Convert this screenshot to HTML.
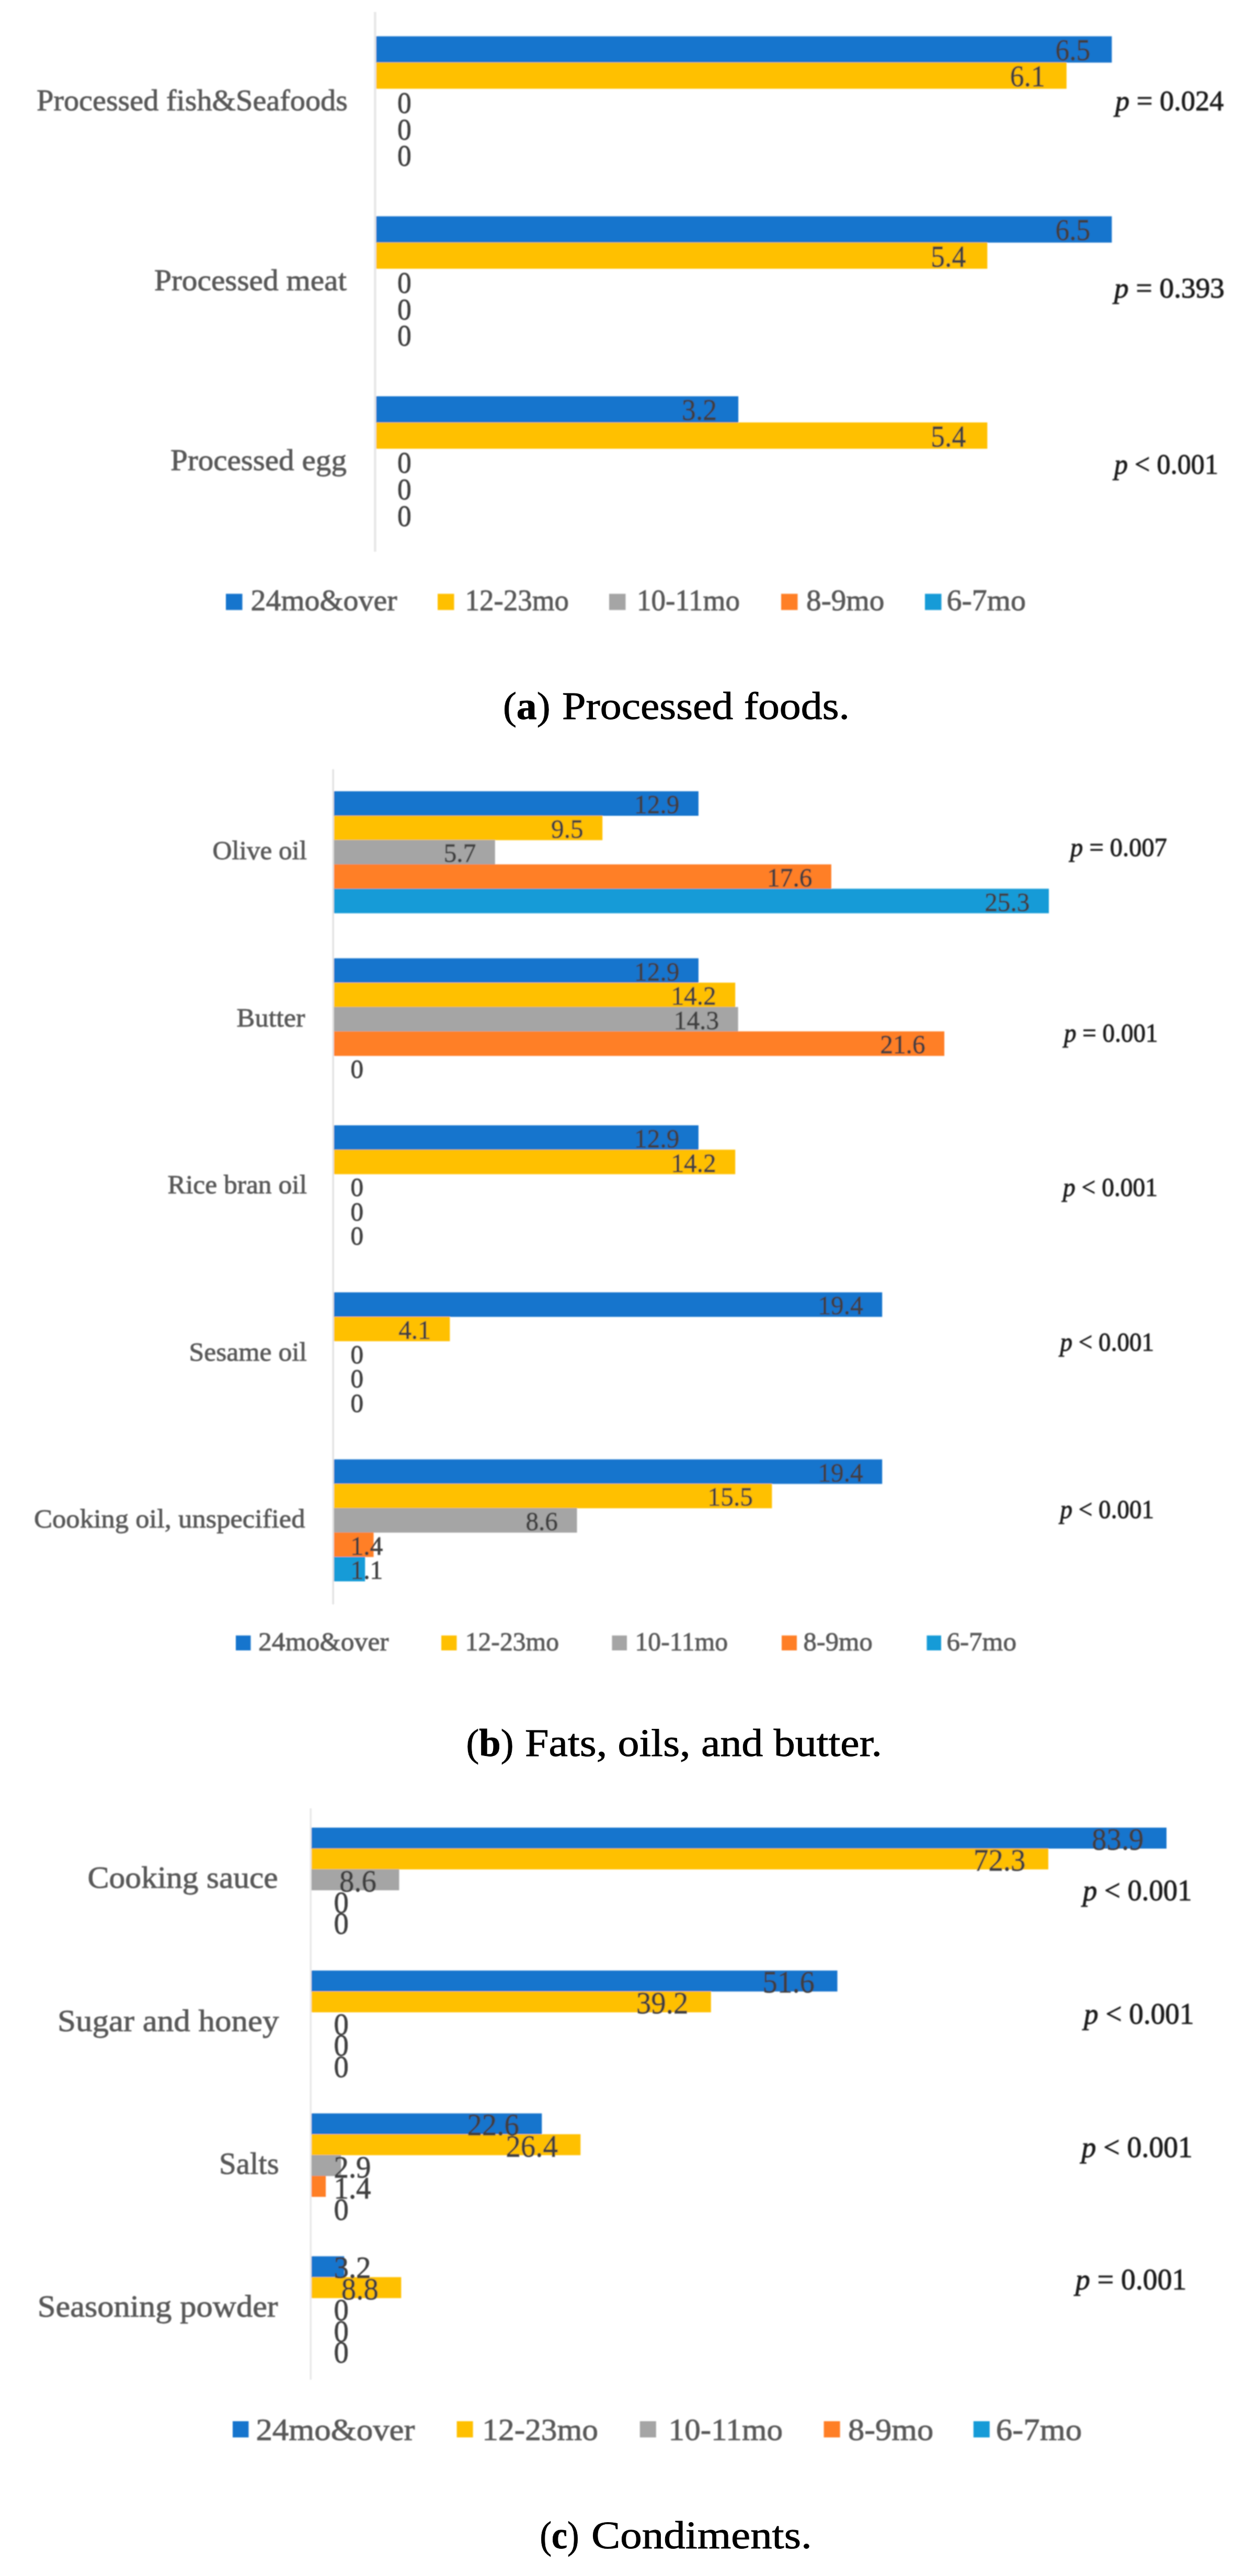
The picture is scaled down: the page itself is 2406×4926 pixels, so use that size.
<!DOCTYPE html>
<html lang="en"><head><meta charset="utf-8"><title>Figure</title>
<style>
html,body{margin:0;padding:0;background:#fff;}
body{width:2406px;height:4926px;overflow:hidden;}
svg{display:block;font-family:"Liberation Serif", serif;}
text{white-space:pre;}
</style></head>
<body>
<svg width="2406" height="4926" viewBox="0 0 2406 4926">
<defs>
<filter id="bla" x="0" y="0" width="2406" height="1250" filterUnits="userSpaceOnUse"><feGaussianBlur stdDeviation="1.0"/></filter>
<filter id="blb" x="0" y="1440" width="2406" height="1800" filterUnits="userSpaceOnUse"><feGaussianBlur stdDeviation="0.9"/></filter>
<filter id="blc" x="0" y="3430" width="2406" height="1300" filterUnits="userSpaceOnUse"><feGaussianBlur stdDeviation="1.1"/></filter>
</defs>
<rect x="0" y="0" width="2406" height="4926" fill="#fff"/>
<g filter="url(#bla)"><rect x="715.2" y="23.0" width="4.4" height="1032.0" fill="#e6e6e6"/>
<rect x="719.5" y="69.4" width="1406.9" height="50.3" fill="#1874CD"/>
<rect x="719.5" y="119.4" width="1320.3" height="50.3" fill="#FFC000"/>
<text x="70.0" y="211.0" font-size="56" fill="#595959" textLength="595.0" lengthAdjust="spacingAndGlyphs" stroke="#595959" stroke-width="0.9">Processed fish&amp;Seafoods</text>
<text x="2133.0" y="211.0" font-size="55" fill="#1c1c1c" textLength="207.5" lengthAdjust="spacingAndGlyphs" stroke="#1c1c1c" stroke-width="1.0"><tspan font-style="italic">p</tspan> = 0.024</text>
<rect x="719.5" y="413.6" width="1406.9" height="50.3" fill="#1874CD"/>
<rect x="719.5" y="463.6" width="1168.8" height="50.3" fill="#FFC000"/>
<text x="295.0" y="555.2" font-size="56" fill="#595959" textLength="368.0" lengthAdjust="spacingAndGlyphs" stroke="#595959" stroke-width="0.9">Processed meat</text>
<text x="2131.0" y="569.0" font-size="55" fill="#1c1c1c" textLength="211.0" lengthAdjust="spacingAndGlyphs" stroke="#1c1c1c" stroke-width="1.0"><tspan font-style="italic">p</tspan> = 0.393</text>
<rect x="719.5" y="757.8" width="692.6" height="50.3" fill="#1874CD"/>
<rect x="719.5" y="807.8" width="1168.8" height="50.3" fill="#FFC000"/>
<text x="326.0" y="899.4" font-size="56" fill="#595959" textLength="337.0" lengthAdjust="spacingAndGlyphs" stroke="#595959" stroke-width="0.9">Processed egg</text>
<text x="2131.0" y="906.0" font-size="55" fill="#1c1c1c" textLength="199.0" lengthAdjust="spacingAndGlyphs" stroke="#1c1c1c" stroke-width="1.0"><tspan font-style="italic">p</tspan> &lt; 0.001</text>
<text x="2018.4" y="114.8" font-size="56" fill="#404040" textLength="67.0" lengthAdjust="spacingAndGlyphs" stroke="#404040" stroke-width="0.8">6.5</text>
<text x="1931.8" y="165.4" font-size="56" fill="#404040" textLength="67.0" lengthAdjust="spacingAndGlyphs" stroke="#404040" stroke-width="0.8">6.1</text>
<text x="760.0" y="216.0" font-size="56" fill="#404040" textLength="26.8" lengthAdjust="spacingAndGlyphs" stroke="#404040" stroke-width="0.8">0</text>
<text x="760.0" y="266.6" font-size="56" fill="#404040" textLength="26.8" lengthAdjust="spacingAndGlyphs" stroke="#404040" stroke-width="0.8">0</text>
<text x="760.0" y="317.2" font-size="56" fill="#404040" textLength="26.8" lengthAdjust="spacingAndGlyphs" stroke="#404040" stroke-width="0.8">0</text>
<text x="2018.4" y="459.0" font-size="56" fill="#404040" textLength="67.0" lengthAdjust="spacingAndGlyphs" stroke="#404040" stroke-width="0.8">6.5</text>
<text x="1780.3" y="509.6" font-size="56" fill="#404040" textLength="67.0" lengthAdjust="spacingAndGlyphs" stroke="#404040" stroke-width="0.8">5.4</text>
<text x="760.0" y="560.2" font-size="56" fill="#404040" textLength="26.8" lengthAdjust="spacingAndGlyphs" stroke="#404040" stroke-width="0.8">0</text>
<text x="760.0" y="610.8" font-size="56" fill="#404040" textLength="26.8" lengthAdjust="spacingAndGlyphs" stroke="#404040" stroke-width="0.8">0</text>
<text x="760.0" y="661.4" font-size="56" fill="#404040" textLength="26.8" lengthAdjust="spacingAndGlyphs" stroke="#404040" stroke-width="0.8">0</text>
<text x="1304.1" y="803.2" font-size="56" fill="#404040" textLength="67.0" lengthAdjust="spacingAndGlyphs" stroke="#404040" stroke-width="0.8">3.2</text>
<text x="1780.3" y="853.8" font-size="56" fill="#404040" textLength="67.0" lengthAdjust="spacingAndGlyphs" stroke="#404040" stroke-width="0.8">5.4</text>
<text x="760.0" y="904.4" font-size="56" fill="#404040" textLength="26.8" lengthAdjust="spacingAndGlyphs" stroke="#404040" stroke-width="0.8">0</text>
<text x="760.0" y="955.0" font-size="56" fill="#404040" textLength="26.8" lengthAdjust="spacingAndGlyphs" stroke="#404040" stroke-width="0.8">0</text>
<text x="760.0" y="1005.6" font-size="56" fill="#404040" textLength="26.8" lengthAdjust="spacingAndGlyphs" stroke="#404040" stroke-width="0.8">0</text>
<rect x="432.0" y="1135.5" width="31.5" height="31.0" fill="#1874CD"/>
<text x="479.5" y="1166.5" font-size="56" fill="#595959" textLength="280.0" lengthAdjust="spacingAndGlyphs" stroke="#595959" stroke-width="0.9">24mo&amp;over</text>
<rect x="837.0" y="1135.5" width="31.5" height="31.0" fill="#FFC000"/>
<text x="889.5" y="1166.5" font-size="56" fill="#595959" textLength="198.5" lengthAdjust="spacingAndGlyphs" stroke="#595959" stroke-width="0.9">12-23mo</text>
<rect x="1165.0" y="1135.5" width="31.5" height="31.0" fill="#A5A5A5"/>
<text x="1218.0" y="1166.5" font-size="56" fill="#595959" textLength="197.0" lengthAdjust="spacingAndGlyphs" stroke="#595959" stroke-width="0.9">10-11mo</text>
<rect x="1494.0" y="1135.5" width="31.5" height="31.0" fill="#FF7F27"/>
<text x="1542.0" y="1166.5" font-size="56" fill="#595959" textLength="149.5" lengthAdjust="spacingAndGlyphs" stroke="#595959" stroke-width="0.9">8-9mo</text>
<rect x="1769.0" y="1135.5" width="31.5" height="31.0" fill="#179BD7"/>
<text x="1810.5" y="1166.5" font-size="56" fill="#595959" textLength="151.5" lengthAdjust="spacingAndGlyphs" stroke="#595959" stroke-width="0.9">6-7mo</text></g>
<g filter="url(#blb)"><rect x="635.6" y="1471.0" width="3.0" height="1597.0" fill="#dedede"/>
<rect x="638.8" y="1513.1" width="697.1" height="46.9" fill="#1874CD"/>
<rect x="638.8" y="1559.7" width="513.4" height="46.9" fill="#FFC000"/>
<rect x="638.8" y="1606.3" width="308.0" height="46.9" fill="#A5A5A5"/>
<rect x="638.8" y="1652.9" width="951.1" height="46.9" fill="#FF7F27"/>
<rect x="638.8" y="1699.5" width="1367.2" height="46.9" fill="#179BD7"/>
<text x="406.5" y="1643.4" font-size="50" fill="#595959" textLength="180.5" lengthAdjust="spacingAndGlyphs" stroke="#595959" stroke-width="0.9">Olive oil</text>
<text x="2047.0" y="1637.0" font-size="50" fill="#1c1c1c" textLength="185.0" lengthAdjust="spacingAndGlyphs" stroke="#1c1c1c" stroke-width="1.0"><tspan font-style="italic">p</tspan> = 0.007</text>
<rect x="638.8" y="1832.5" width="697.1" height="46.9" fill="#1874CD"/>
<rect x="638.8" y="1879.1" width="767.4" height="46.9" fill="#FFC000"/>
<rect x="638.8" y="1925.7" width="772.8" height="46.9" fill="#A5A5A5"/>
<rect x="638.8" y="1972.3" width="1167.3" height="46.9" fill="#FF7F27"/>
<text x="452.5" y="1962.8" font-size="50" fill="#595959" textLength="131.0" lengthAdjust="spacingAndGlyphs" stroke="#595959" stroke-width="0.9">Butter</text>
<text x="2035.0" y="1991.5" font-size="50" fill="#1c1c1c" textLength="179.5" lengthAdjust="spacingAndGlyphs" stroke="#1c1c1c" stroke-width="1.0"><tspan font-style="italic">p</tspan> = 0.001</text>
<rect x="638.8" y="2151.9" width="697.1" height="46.9" fill="#1874CD"/>
<rect x="638.8" y="2198.5" width="767.4" height="46.9" fill="#FFC000"/>
<text x="320.5" y="2282.2" font-size="50" fill="#595959" textLength="266.5" lengthAdjust="spacingAndGlyphs" stroke="#595959" stroke-width="0.9">Rice bran oil</text>
<text x="2033.0" y="2286.5" font-size="50" fill="#1c1c1c" textLength="181.0" lengthAdjust="spacingAndGlyphs" stroke="#1c1c1c" stroke-width="1.0"><tspan font-style="italic">p</tspan> &lt; 0.001</text>
<rect x="638.8" y="2471.3" width="1048.4" height="46.9" fill="#1874CD"/>
<rect x="638.8" y="2517.9" width="221.6" height="46.9" fill="#FFC000"/>
<text x="361.5" y="2601.6" font-size="50" fill="#595959" textLength="225.5" lengthAdjust="spacingAndGlyphs" stroke="#595959" stroke-width="0.9">Sesame oil</text>
<text x="2027.5" y="2583.0" font-size="50" fill="#1c1c1c" textLength="179.5" lengthAdjust="spacingAndGlyphs" stroke="#1c1c1c" stroke-width="1.0"><tspan font-style="italic">p</tspan> &lt; 0.001</text>
<rect x="638.8" y="2790.7" width="1048.4" height="46.9" fill="#1874CD"/>
<rect x="638.8" y="2837.3" width="837.6" height="46.9" fill="#FFC000"/>
<rect x="638.8" y="2883.9" width="464.7" height="46.9" fill="#A5A5A5"/>
<rect x="638.8" y="2930.5" width="75.7" height="46.9" fill="#FF7F27"/>
<rect x="638.8" y="2977.1" width="59.4" height="46.9" fill="#179BD7"/>
<text x="65.0" y="2921.0" font-size="50" fill="#595959" textLength="518.5" lengthAdjust="spacingAndGlyphs" stroke="#595959" stroke-width="0.9">Cooking oil, unspecified</text>
<text x="2027.5" y="2903.0" font-size="50" fill="#1c1c1c" textLength="179.5" lengthAdjust="spacingAndGlyphs" stroke="#1c1c1c" stroke-width="1.0"><tspan font-style="italic">p</tspan> &lt; 0.001</text>
<text x="1213.1" y="1555.2" font-size="50.5" fill="#404040" textLength="86.3" lengthAdjust="spacingAndGlyphs" stroke="#404040" stroke-width="0.8">12.9</text>
<text x="1054.1" y="1601.8" font-size="50.5" fill="#404040" textLength="61.6" lengthAdjust="spacingAndGlyphs" stroke="#404040" stroke-width="0.8">9.5</text>
<text x="848.7" y="1648.4" font-size="50.5" fill="#404040" textLength="61.6" lengthAdjust="spacingAndGlyphs" stroke="#404040" stroke-width="0.8">5.7</text>
<text x="1467.1" y="1695.0" font-size="50.5" fill="#404040" textLength="86.3" lengthAdjust="spacingAndGlyphs" stroke="#404040" stroke-width="0.8">17.6</text>
<text x="1883.2" y="1741.6" font-size="50.5" fill="#404040" textLength="86.3" lengthAdjust="spacingAndGlyphs" stroke="#404040" stroke-width="0.8">25.3</text>
<text x="1213.1" y="1874.6" font-size="50.5" fill="#404040" textLength="86.3" lengthAdjust="spacingAndGlyphs" stroke="#404040" stroke-width="0.8">12.9</text>
<text x="1283.4" y="1921.2" font-size="50.5" fill="#404040" textLength="86.3" lengthAdjust="spacingAndGlyphs" stroke="#404040" stroke-width="0.8">14.2</text>
<text x="1288.8" y="1967.8" font-size="50.5" fill="#404040" textLength="86.3" lengthAdjust="spacingAndGlyphs" stroke="#404040" stroke-width="0.8">14.3</text>
<text x="1683.3" y="2014.4" font-size="50.5" fill="#404040" textLength="86.3" lengthAdjust="spacingAndGlyphs" stroke="#404040" stroke-width="0.8">21.6</text>
<text x="670.5" y="2061.0" font-size="50.5" fill="#404040" textLength="24.6" lengthAdjust="spacingAndGlyphs" stroke="#404040" stroke-width="0.8">0</text>
<text x="1213.1" y="2194.0" font-size="50.5" fill="#404040" textLength="86.3" lengthAdjust="spacingAndGlyphs" stroke="#404040" stroke-width="0.8">12.9</text>
<text x="1283.4" y="2240.6" font-size="50.5" fill="#404040" textLength="86.3" lengthAdjust="spacingAndGlyphs" stroke="#404040" stroke-width="0.8">14.2</text>
<text x="670.5" y="2287.2" font-size="50.5" fill="#404040" textLength="24.6" lengthAdjust="spacingAndGlyphs" stroke="#404040" stroke-width="0.8">0</text>
<text x="670.5" y="2333.8" font-size="50.5" fill="#404040" textLength="24.6" lengthAdjust="spacingAndGlyphs" stroke="#404040" stroke-width="0.8">0</text>
<text x="670.5" y="2380.4" font-size="50.5" fill="#404040" textLength="24.6" lengthAdjust="spacingAndGlyphs" stroke="#404040" stroke-width="0.8">0</text>
<text x="1564.4" y="2513.4" font-size="50.5" fill="#404040" textLength="86.3" lengthAdjust="spacingAndGlyphs" stroke="#404040" stroke-width="0.8">19.4</text>
<text x="762.2" y="2560.0" font-size="50.5" fill="#404040" textLength="61.6" lengthAdjust="spacingAndGlyphs" stroke="#404040" stroke-width="0.8">4.1</text>
<text x="670.5" y="2606.6" font-size="50.5" fill="#404040" textLength="24.6" lengthAdjust="spacingAndGlyphs" stroke="#404040" stroke-width="0.8">0</text>
<text x="670.5" y="2653.2" font-size="50.5" fill="#404040" textLength="24.6" lengthAdjust="spacingAndGlyphs" stroke="#404040" stroke-width="0.8">0</text>
<text x="670.5" y="2699.8" font-size="50.5" fill="#404040" textLength="24.6" lengthAdjust="spacingAndGlyphs" stroke="#404040" stroke-width="0.8">0</text>
<text x="1564.4" y="2832.8" font-size="50.5" fill="#404040" textLength="86.3" lengthAdjust="spacingAndGlyphs" stroke="#404040" stroke-width="0.8">19.4</text>
<text x="1353.6" y="2879.4" font-size="50.5" fill="#404040" textLength="86.3" lengthAdjust="spacingAndGlyphs" stroke="#404040" stroke-width="0.8">15.5</text>
<text x="1005.4" y="2926.0" font-size="50.5" fill="#404040" textLength="61.6" lengthAdjust="spacingAndGlyphs" stroke="#404040" stroke-width="0.8">8.6</text>
<text x="670.5" y="2972.6" font-size="50.5" fill="#404040" textLength="61.6" lengthAdjust="spacingAndGlyphs" stroke="#404040" stroke-width="0.8">1.4</text>
<text x="670.5" y="3019.2" font-size="50.5" fill="#404040" textLength="61.6" lengthAdjust="spacingAndGlyphs" stroke="#404040" stroke-width="0.8">1.1</text>
<rect x="451.0" y="3127.5" width="28.5" height="28.5" fill="#1874CD"/>
<text x="494.0" y="3156.0" font-size="50" fill="#595959" textLength="249.5" lengthAdjust="spacingAndGlyphs" stroke="#595959" stroke-width="0.9">24mo&amp;over</text>
<rect x="844.0" y="3127.5" width="29.5" height="28.5" fill="#FFC000"/>
<text x="889.7" y="3156.0" font-size="50" fill="#595959" textLength="179.3" lengthAdjust="spacingAndGlyphs" stroke="#595959" stroke-width="0.9">12-23mo</text>
<rect x="1170.5" y="3127.5" width="28.5" height="28.5" fill="#A5A5A5"/>
<text x="1214.5" y="3156.0" font-size="50" fill="#595959" textLength="177.5" lengthAdjust="spacingAndGlyphs" stroke="#595959" stroke-width="0.9">10-11mo</text>
<rect x="1495.0" y="3127.5" width="29.0" height="28.5" fill="#FF7F27"/>
<text x="1536.5" y="3156.0" font-size="50" fill="#595959" textLength="132.2" lengthAdjust="spacingAndGlyphs" stroke="#595959" stroke-width="0.9">8-9mo</text>
<rect x="1772.5" y="3127.5" width="27.5" height="28.5" fill="#179BD7"/>
<text x="1810.4" y="3156.0" font-size="50" fill="#595959" textLength="133.6" lengthAdjust="spacingAndGlyphs" stroke="#595959" stroke-width="0.9">6-7mo</text></g>
<g filter="url(#blc)"><rect x="592.6" y="3458.0" width="3.2" height="1092.5" fill="#e6e6e6"/>
<rect x="595.8" y="3494.9" width="1635.2" height="40.1" fill="#1874CD"/>
<rect x="595.8" y="3534.7" width="1409.1" height="40.1" fill="#FFC000"/>
<rect x="595.8" y="3574.6" width="167.6" height="40.1" fill="#A5A5A5"/>
<text x="167.5" y="3610.4" font-size="59" fill="#595959" textLength="364.2" lengthAdjust="spacingAndGlyphs" stroke="#595959" stroke-width="0.9">Cooking sauce</text>
<text x="2071.0" y="3633.6" font-size="58" fill="#1c1c1c" textLength="208.5" lengthAdjust="spacingAndGlyphs" stroke="#1c1c1c" stroke-width="1.0"><tspan font-style="italic">p</tspan> &lt; 0.001</text>
<rect x="595.8" y="3768.2" width="1005.7" height="40.1" fill="#1874CD"/>
<rect x="595.8" y="3808.0" width="764.0" height="40.1" fill="#FFC000"/>
<text x="110.0" y="3883.7" font-size="59" fill="#595959" textLength="423.6" lengthAdjust="spacingAndGlyphs" stroke="#595959" stroke-width="0.9">Sugar and honey</text>
<text x="2073.0" y="3870.0" font-size="58" fill="#1c1c1c" textLength="210.6" lengthAdjust="spacingAndGlyphs" stroke="#1c1c1c" stroke-width="1.0"><tspan font-style="italic">p</tspan> &lt; 0.001</text>
<rect x="595.8" y="4041.4" width="440.5" height="40.1" fill="#1874CD"/>
<rect x="595.8" y="4081.2" width="514.5" height="40.1" fill="#FFC000"/>
<rect x="595.8" y="4121.1" width="56.5" height="40.1" fill="#A5A5A5"/>
<rect x="595.8" y="4160.9" width="27.3" height="40.1" fill="#FF7F27"/>
<text x="419.0" y="4156.9" font-size="59" fill="#595959" textLength="114.6" lengthAdjust="spacingAndGlyphs" stroke="#595959" stroke-width="0.9">Salts</text>
<text x="2068.5" y="4125.0" font-size="58" fill="#1c1c1c" textLength="212.5" lengthAdjust="spacingAndGlyphs" stroke="#1c1c1c" stroke-width="1.0"><tspan font-style="italic">p</tspan> &lt; 0.001</text>
<rect x="595.8" y="4314.6" width="62.4" height="40.1" fill="#1874CD"/>
<rect x="595.8" y="4354.5" width="171.5" height="40.1" fill="#FFC000"/>
<text x="71.7" y="4430.1" font-size="59" fill="#595959" textLength="460.0" lengthAdjust="spacingAndGlyphs" stroke="#595959" stroke-width="0.9">Seasoning powder</text>
<text x="2057.0" y="4377.5" font-size="58" fill="#1c1c1c" textLength="212.3" lengthAdjust="spacingAndGlyphs" stroke="#1c1c1c" stroke-width="1.0"><tspan font-style="italic">p</tspan> = 0.001</text>
<text x="2088.1" y="3536.5" font-size="59.5" fill="#404040" textLength="99.4" lengthAdjust="spacingAndGlyphs" stroke="#404040" stroke-width="0.8">83.9</text>
<text x="1862.0" y="3577.0" font-size="59.5" fill="#404040" textLength="99.4" lengthAdjust="spacingAndGlyphs" stroke="#404040" stroke-width="0.8">72.3</text>
<text x="648.9" y="3617.4" font-size="59.5" fill="#404040" textLength="71.0" lengthAdjust="spacingAndGlyphs" stroke="#404040" stroke-width="0.8">8.6</text>
<text x="638.5" y="3657.8" font-size="59.5" fill="#404040" textLength="28.4" lengthAdjust="spacingAndGlyphs" stroke="#404040" stroke-width="0.8">0</text>
<text x="638.5" y="3698.3" font-size="59.5" fill="#404040" textLength="28.4" lengthAdjust="spacingAndGlyphs" stroke="#404040" stroke-width="0.8">0</text>
<text x="1458.6" y="3809.8" font-size="59.5" fill="#404040" textLength="99.4" lengthAdjust="spacingAndGlyphs" stroke="#404040" stroke-width="0.8">51.6</text>
<text x="1216.9" y="3850.2" font-size="59.5" fill="#404040" textLength="99.4" lengthAdjust="spacingAndGlyphs" stroke="#404040" stroke-width="0.8">39.2</text>
<text x="638.5" y="3890.6" font-size="59.5" fill="#404040" textLength="28.4" lengthAdjust="spacingAndGlyphs" stroke="#404040" stroke-width="0.8">0</text>
<text x="638.5" y="3931.1" font-size="59.5" fill="#404040" textLength="28.4" lengthAdjust="spacingAndGlyphs" stroke="#404040" stroke-width="0.8">0</text>
<text x="638.5" y="3971.5" font-size="59.5" fill="#404040" textLength="28.4" lengthAdjust="spacingAndGlyphs" stroke="#404040" stroke-width="0.8">0</text>
<text x="893.4" y="4083.0" font-size="59.5" fill="#404040" textLength="99.4" lengthAdjust="spacingAndGlyphs" stroke="#404040" stroke-width="0.8">22.6</text>
<text x="967.4" y="4123.5" font-size="59.5" fill="#404040" textLength="99.4" lengthAdjust="spacingAndGlyphs" stroke="#404040" stroke-width="0.8">26.4</text>
<text x="638.5" y="4163.9" font-size="59.5" fill="#404040" textLength="71.0" lengthAdjust="spacingAndGlyphs" stroke="#404040" stroke-width="0.8">2.9</text>
<text x="638.5" y="4204.3" font-size="59.5" fill="#404040" textLength="71.0" lengthAdjust="spacingAndGlyphs" stroke="#404040" stroke-width="0.8">1.4</text>
<text x="638.5" y="4244.8" font-size="59.5" fill="#404040" textLength="28.4" lengthAdjust="spacingAndGlyphs" stroke="#404040" stroke-width="0.8">0</text>
<text x="638.5" y="4356.3" font-size="59.5" fill="#404040" textLength="71.0" lengthAdjust="spacingAndGlyphs" stroke="#404040" stroke-width="0.8">3.2</text>
<text x="652.8" y="4396.7" font-size="59.5" fill="#404040" textLength="71.0" lengthAdjust="spacingAndGlyphs" stroke="#404040" stroke-width="0.8">8.8</text>
<text x="638.5" y="4437.1" font-size="59.5" fill="#404040" textLength="28.4" lengthAdjust="spacingAndGlyphs" stroke="#404040" stroke-width="0.8">0</text>
<text x="638.5" y="4477.6" font-size="59.5" fill="#404040" textLength="28.4" lengthAdjust="spacingAndGlyphs" stroke="#404040" stroke-width="0.8">0</text>
<text x="638.5" y="4518.0" font-size="59.5" fill="#404040" textLength="28.4" lengthAdjust="spacingAndGlyphs" stroke="#404040" stroke-width="0.8">0</text>
<rect x="445.0" y="4630.0" width="30.5" height="31.0" fill="#1874CD"/>
<text x="489.4" y="4666.0" font-size="60" fill="#595959" textLength="304.1" lengthAdjust="spacingAndGlyphs" stroke="#595959" stroke-width="0.9">24mo&amp;over</text>
<rect x="873.6" y="4630.0" width="31.0" height="31.0" fill="#FFC000"/>
<text x="922.3" y="4666.0" font-size="60" fill="#595959" textLength="221.7" lengthAdjust="spacingAndGlyphs" stroke="#595959" stroke-width="0.9">12-23mo</text>
<rect x="1223.8" y="4630.0" width="31.0" height="31.0" fill="#A5A5A5"/>
<text x="1278.6" y="4666.0" font-size="60" fill="#595959" textLength="218.4" lengthAdjust="spacingAndGlyphs" stroke="#595959" stroke-width="0.9">10-11mo</text>
<rect x="1575.6" y="4630.0" width="31.0" height="31.0" fill="#FF7F27"/>
<text x="1622.0" y="4666.0" font-size="60" fill="#595959" textLength="163.2" lengthAdjust="spacingAndGlyphs" stroke="#595959" stroke-width="0.9">8-9mo</text>
<rect x="1861.8" y="4630.0" width="31.0" height="31.0" fill="#179BD7"/>
<text x="1904.7" y="4666.0" font-size="60" fill="#595959" textLength="164.5" lengthAdjust="spacingAndGlyphs" stroke="#595959" stroke-width="0.9">6-7mo</text></g>
<text x="962.0" y="1375.0" font-size="74" fill="#000" textLength="90.6" lengthAdjust="spacingAndGlyphs" stroke="#000" stroke-width="0.9">(<tspan font-weight="bold">a</tspan>)</text><text x="1075.0" y="1375.0" font-size="74" fill="#000" textLength="550.0" lengthAdjust="spacingAndGlyphs" stroke="#000" stroke-width="0.9">Processed foods.</text>
<text x="891.5" y="3357.5" font-size="74" fill="#000" textLength="90.9" lengthAdjust="spacingAndGlyphs" stroke="#000" stroke-width="0.9">(<tspan font-weight="bold">b</tspan>)</text><text x="1004.0" y="3357.5" font-size="74" fill="#000" textLength="683.0" lengthAdjust="spacingAndGlyphs" stroke="#000" stroke-width="0.9">Fats, oils, and butter.</text>
<text x="1032.5" y="4872.5" font-size="74" fill="#000" textLength="75.0" lengthAdjust="spacingAndGlyphs" stroke="#000" stroke-width="0.9">(<tspan font-weight="bold">c</tspan>)</text><text x="1131.0" y="4872.5" font-size="74" fill="#000" textLength="421.7" lengthAdjust="spacingAndGlyphs" stroke="#000" stroke-width="0.9">Condiments.</text>
</svg>
</body></html>
